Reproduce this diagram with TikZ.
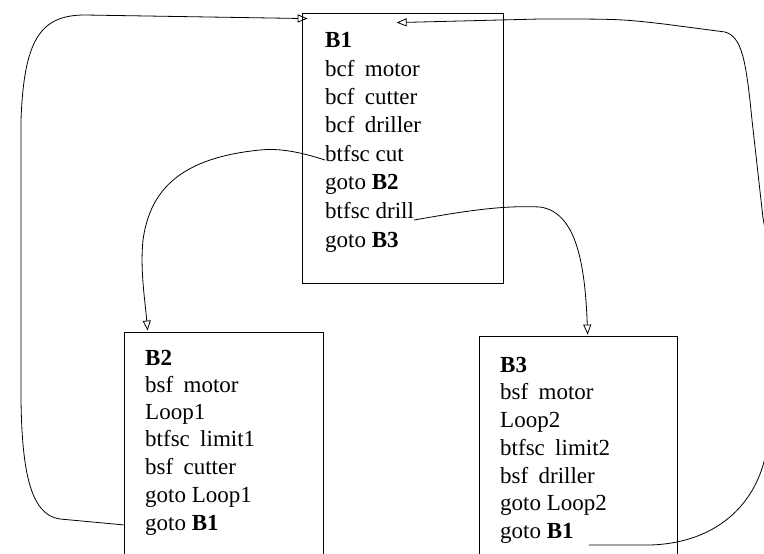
\documentclass[tikz,border=0pt]{standalone}
\usepackage{fontspec}
\setmainfont{Liberation Serif}
\usetikzlibrary{arrows.meta,calc}
\begin{document}
\begin{tikzpicture}[x=1pt,y=-1pt,
  box/.style={draw,line width=0.8pt,rectangle,inner sep=0pt},
  txt/.style={anchor=base west,inner sep=0pt,font=\fontsize{23}{28}\selectfont},
  conn/.style={line width=0.8pt,-{Triangle[open,length=10pt,width=8pt]}}]
\useasboundingbox (0,0) rectangle (764,554);
% boxes
\node[box,minimum width=201pt,minimum height=270pt] (B1) at (402.5,148) {};
\node[box,minimum width=199pt,minimum height=268pt] (B2) at (223.5,466) {};
\node[box,minimum width=198pt,minimum height=264pt] (B3) at (578,468) {};
% B1 text
\node[txt] (b1a) at (325,47) {\textbf{B1}};
\node[txt] (b1b) at (325,76) {bcf\hspace{0.45em}motor};
\node[txt] (b1c) at (325,104) {bcf\hspace{0.45em}cutter};
\node[txt] (b1d) at (325,132) {bcf\hspace{0.45em}driller};
\node[txt] (b1cut) at (325,161) {btfsc cut};
\node[txt] (b1e) at (325,189) {goto \textbf{B2}};
\node[txt] (b1drill) at (325,218) {btfsc drill};
\node[txt] (b1f) at (325,247) {goto \textbf{B3}};
% B2 text
\node[txt] (b2a) at (145,365) {\textbf{B2}};
\node[txt] (b2b) at (145,392) {bsf\hspace{0.45em}motor};
\node[txt] (b2c) at (145,419) {Loop1};
\node[txt] (b2d) at (145,446) {btfsc\hspace{0.45em}limit1};
\node[txt] (b2e) at (145,474) {bsf\hspace{0.45em}cutter};
\node[txt] (b2f) at (145,502) {goto Loop1};
\node[txt] (b2g) at (145,530) {goto \textbf{B1}};
% B3 text
\node[txt] (b3a) at (500,372) {\textbf{B3}};
\node[txt] (b3b) at (500,399) {bsf\hspace{0.45em}motor};
\node[txt] (b3c) at (500,427) {Loop2};
\node[txt] (b3d) at (500,455) {btfsc\hspace{0.45em}limit2};
\node[txt] (b3e) at (500,483) {bsf\hspace{0.45em}driller};
\node[txt] (b3f) at (500,510) {goto Loop2};
\node[txt] (b3g) at (500,538) {goto \textbf{B1}};
% targets
\coordinate (t1) at ($(B1.north west)+(6,6)$);
\coordinate (t2) at ($(B1.north west)+(95,10)$);
\coordinate (t3) at ($(B2.north west)+(24,-1)$);
\coordinate (t4) at ($(B3.north west)+(109,-1)$);
\coordinate (s2) at ($(b3g.base east)+(15,7)$);
% connectors
\draw[conn] (B2.west |- b2g) -- (60,519) .. controls (30,515) and (22,470) .. (21,400)
  -- (21,120) .. controls (24,40) and (40,15) .. (85,15) -- (t1);
\draw[conn] (s2) -- (650,545) .. controls (720,543) and (762,500) .. (768,440)
  -- (770,280) .. controls (769,250) and (766,235) .. (763,218)
  -- (752,120) .. controls (746,60) and (742,37) .. (725,32)
  -- (664,24) .. controls (620,19) .. (540,19) -- (t2);
\draw[conn] ($(b1cut.base west)+(0,-1)$) .. controls (300,152) and (280,148) .. (260,150)
  .. controls (180,158) and (150,190) .. (143,240) .. controls (140,270) and (145,300) .. (t3);
\draw[conn] ($(b1drill.base east)+(0,2)$) .. controls (460,212) and (500,205) .. (540,207)
  .. controls (575,212) and (585,260) .. (t4);
\end{tikzpicture}
\end{document}
